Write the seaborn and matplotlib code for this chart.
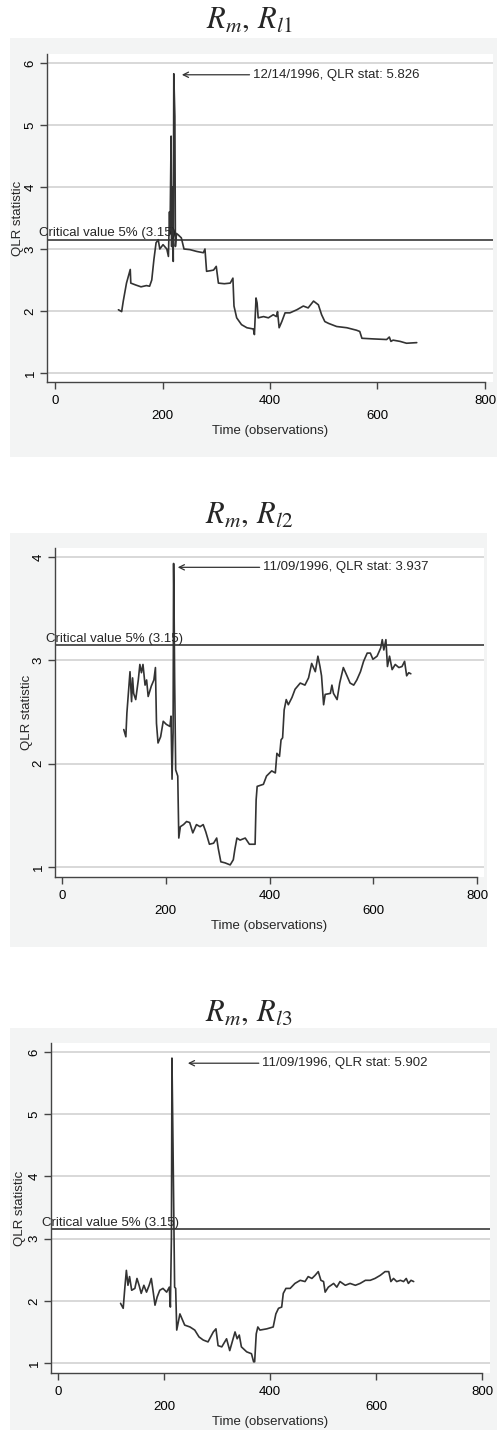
import pandas as pd
import matplotlib.pyplot as plt
import seaborn as sns
from matplotlib.patches import Rectangle

# QLR statistic paths
obs_l1 = [118, 124, 127, 133, 140, 141, 150, 160, 170, 176, 180, 184, 188, 192, 195, 201, 208,
          211, 213, 214, 216, 217, 218, 220, 221, 223, 224, 226, 229, 235, 240, 251, 264, 276,
          279, 282, 289, 295, 300, 304, 315, 326, 331, 333, 338, 347, 357, 369, 371, 374, 376,
          378, 388, 397, 406, 412, 414, 417, 422, 428, 437, 450, 462, 471, 481, 490, 496, 502,
          509, 524, 543, 561, 567, 571, 592, 617, 622, 625, 629, 642, 654, 673]
qlr_l1 = [2.02, 1.99, 2.16, 2.45, 2.67, 2.45, 2.42, 2.39, 2.41, 2.40, 2.50, 2.83, 3.10, 3.15, 3.00,
          3.07, 3.00, 2.88, 3.60, 3.26, 4.82, 3.04, 4.00, 2.80, 5.826, 5.14, 3.04, 3.25, 3.23,
          3.18, 3.00, 2.99, 2.96, 2.94, 3.00, 2.64, 2.65, 2.66, 2.72, 2.45, 2.44, 2.45, 2.53,
          2.08, 1.89, 1.78, 1.73, 1.71, 1.62, 2.21, 2.13, 1.89, 1.91, 1.89, 1.94, 1.91, 1.99,
          1.73, 1.83, 1.97, 1.97, 2.02, 2.08, 2.05, 2.16, 2.10, 1.94, 1.83, 1.80, 1.75, 1.73,
          1.69, 1.67, 1.56, 1.55, 1.54, 1.58, 1.51, 1.53, 1.51, 1.48, 1.49]

obs_l2 = [119, 123, 125, 131, 134, 136, 138, 142, 147, 150, 153, 156, 160, 163, 166, 172, 177,
          180, 182, 185, 190, 195, 201, 208, 210, 212, 214, 215, 216, 217, 219, 223, 225, 228,
          234, 240, 246, 252, 259, 266, 272, 277, 284, 292, 298, 301, 306, 314, 324, 330, 333,
          337, 343, 353, 361, 372, 374, 376, 388, 394, 404, 411, 414, 419, 422, 425, 428, 432,
          436, 443, 449, 459, 468, 475, 481, 488, 493, 497, 500, 504, 507, 517, 520, 523, 530,
          535, 542, 549, 555, 562, 568, 575, 581, 588, 594, 599, 607, 614, 617, 620, 624, 627,
          631, 636, 642, 649, 655, 660, 664, 668, 672]
qlr_l2 = [2.33, 2.26, 2.49, 2.89, 2.60, 2.83, 2.68, 2.62, 2.81, 2.96, 2.88, 2.96, 2.76, 2.81,
          2.65, 2.75, 2.81, 2.93, 2.39, 2.20, 2.26, 2.41, 2.38, 2.36, 2.46, 1.85, 2.30, 3.937,
          3.46, 2.81, 1.94, 1.88, 1.28, 1.39, 1.41, 1.44, 1.43, 1.33, 1.41, 1.39, 1.41, 1.34,
          1.22, 1.23, 1.28, 1.18, 1.05, 1.04, 1.02, 1.07, 1.17, 1.28, 1.26, 1.28, 1.22, 1.22,
          1.65, 1.78, 1.80, 1.88, 1.93, 1.91, 2.10, 2.07, 2.23, 2.25, 2.52, 2.62, 2.57, 2.64,
          2.72, 2.78, 2.76, 2.83, 2.97, 2.89, 3.04, 2.94, 2.85, 2.57, 2.67, 2.68, 2.76, 2.68,
          2.62, 2.78, 2.93, 2.85, 2.78, 2.76, 2.81, 2.89, 2.99, 3.07, 3.07, 3.01, 3.04, 3.12,
          3.20, 3.10, 3.20, 2.94, 3.04, 2.91, 2.96, 2.93, 2.94, 2.99, 2.85, 2.88, 2.87]

obs_l3 = [118, 123, 126, 129, 132, 135, 139, 145, 149, 153, 157, 162, 167, 172, 176, 180, 183,
          187, 192, 198, 205, 210, 212, 214, 215, 217, 218, 220, 222, 224, 230, 235, 239, 249,
          258, 266, 274, 283, 293, 298, 302, 309, 318, 324, 334, 338, 342, 346, 356, 365, 369,
          371, 374, 377, 381, 394, 406, 411, 416, 422, 425, 430, 438, 447, 457, 466, 472, 479,
          485, 491, 496, 501, 504, 510, 520, 526, 532, 542, 551, 561, 570, 580, 589, 598, 608,
          617, 624, 628, 633, 639, 646, 652, 657, 661, 666, 671]
qlr_l3 = [1.96, 1.88, 2.20, 2.49, 2.25, 2.39, 2.17, 2.20, 2.36, 2.25, 2.12, 2.25, 2.14, 2.25,
          2.36, 2.12, 1.93, 2.06, 2.17, 2.20, 2.14, 2.22, 1.90, 3.03, 5.902, 4.48, 3.73, 2.22,
          2.20, 1.53, 1.79, 1.69, 1.61, 1.58, 1.53, 1.42, 1.37, 1.34, 1.50, 1.55, 1.28, 1.26,
          1.39, 1.20, 1.50, 1.39, 1.45, 1.26, 1.18, 1.15, 1.02, 1.02, 1.47, 1.58, 1.53, 1.55,
          1.58, 1.79, 1.88, 1.90, 2.12, 2.20, 2.20, 2.28, 2.33, 2.31, 2.39, 2.36, 2.41, 2.47,
          2.33, 2.31, 2.14, 2.22, 2.28, 2.22, 2.31, 2.25, 2.28, 2.25, 2.28, 2.33, 2.33, 2.36,
          2.41, 2.47, 2.47, 2.31, 2.36, 2.31, 2.33, 2.31, 2.36, 2.28, 2.33, 2.31]

titles = [r'$R_m,\,R_{\mathit{l1}}$', r'$R_m,\,R_{\mathit{l2}}$', r'$R_m,\,R_{\mathit{l3}}$']
peak_labels = ['12/14/1996, QLR stat: 5.826', '11/09/1996, QLR stat: 3.937',
               '11/09/1996, QLR stat: 5.902']
yticks_list = [[1, 2, 3, 4, 5, 6], [1, 2, 3, 4], [1, 2, 3, 4, 5, 6]]
crit_value = 3.15
# -----------------------------------------------------------

sns.set_theme(style='white')
plt.rcParams['font.family'] = ['Liberation Sans', 'DejaVu Sans']
plt.rcParams['mathtext.fontset'] = 'stix'
FS = 9.5

W, H = 498, 1430
fig = plt.figure(figsize=(W / 100, H / 100), dpi=100)
fig.patch.set_facecolor('white')

# pixel layouts: axes box, limits, gray region, title y, ylabel x, arrow head / text x
panels = [
    dict(box=(47, 54, 493, 382), xlim=(-14.9, 814.9), ylim=(0.855, 6.145),
         region=(10, 38, 497, 457), title_y=20, ylab_x=24, head=(236, 5.81), txt_x=368),
    dict(box=(55, 548, 484, 877), xlim=(-13.5, 813), ylim=(0.903, 4.087),
         region=(10, 533, 487, 947), title_y=515, ylab_x=33, head=(223, 3.90), txt_x=387),
    dict(box=(51, 1043, 490, 1373), xlim=(-13.2, 815), ylim=(0.84, 6.145),
         region=(10, 1028, 497, 1430), title_y=1013, ylab_x=26, head=(245, 5.82), txt_x=385),
]
series = [(obs_l1, qlr_l1), (obs_l2, qlr_l2), (obs_l3, qlr_l3)]

for i, p in enumerate(panels):
    l, t, r, b = p['region']
    fig.patches.append(Rectangle((l / W, 1 - b / H), (r - l) / W, (b - t) / H,
                                 transform=fig.transFigure, facecolor='#f3f4f4',
                                 edgecolor='none', zorder=-5))
    fig.text(0.5, 1 - p['title_y'] / H, titles[i], ha='center', va='center', fontsize=22)

    l, t, r, b = p['box']
    ax = fig.add_axes([l / W, 1 - b / H, (r - l) / W, (b - t) / H])
    ax.set_facecolor('white')

    df = pd.DataFrame({'obs': series[i][0], 'qlr': series[i][1]})
    sns.lineplot(data=df, x='obs', y='qlr', ax=ax, color='#333333', linewidth=1.2,
                 sort=False, estimator=None, zorder=3)

    ax.set_xlim(*p['xlim'])
    ax.set_ylim(*p['ylim'])
    ax.set_yticks(yticks_list[i])
    ax.set_yticklabels([str(v) for v in yticks_list[i]], rotation=90, va='center')
    ax.set_xticks([0, 400, 800])
    ax.set_xticks([200, 600], minor=True)
    ax.set_xticklabels(['0', '400', '800'])
    ax.set_xticklabels(['200', '600'], minor=True)
    ax.tick_params(axis='both', which='both', direction='out', length=5, width=1,
                   color='#444444', labelsize=FS, labelcolor='black')
    ax.tick_params(axis='x', which='major', pad=4.5, bottom=True)
    ax.tick_params(axis='x', which='minor', pad=15.5, bottom=True)
    ax.tick_params(axis='y', left=True, pad=2.5)

    ax.yaxis.grid(True, color='#d2d2d2', linewidth=1.2)
    ax.xaxis.grid(False)
    for side in ['top', 'right']:
        ax.spines[side].set_visible(False)
    for side in ['left', 'bottom']:
        ax.spines[side].set_color('#444444')
        ax.spines[side].set_linewidth(1)
    ax.spines['bottom'].set_bounds(p['xlim'][0], 800)

    ax.set_xlabel('Time (observations)', fontsize=FS)
    ax.set_ylabel('QLR statistic', fontsize=FS)
    ax.xaxis.set_label_coords(0.5, -43 / (b - t))
    ax.yaxis.set_label_coords((p['ylab_x'] - l) / (r - l), 0.5)

    ax.axhline(crit_value, color='#555555', linewidth=1.4, zorder=2)
    ax.annotate('Critical value 5% (3.15)', xy=(-30, crit_value), xytext=(0, 4.5),
                textcoords='offset points', ha='left', va='center', fontsize=FS,
                annotation_clip=False, zorder=4)

    ax.annotate(peak_labels[i], xy=p['head'], xytext=(p['txt_x'], p['head'][1]),
                ha='left', va='center', fontsize=FS,
                arrowprops=dict(arrowstyle='->', color='#333333', lw=0.9,
                                shrinkA=0, shrinkB=0))

fig.savefig('out.png', dpi=100)
